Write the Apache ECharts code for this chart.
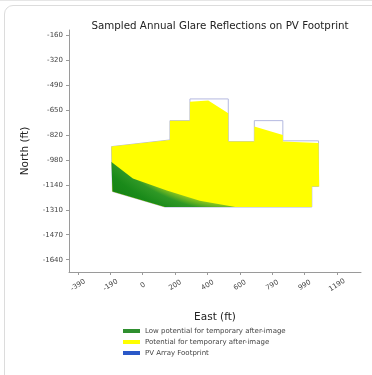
<!DOCTYPE html>
<html>
<head>
<meta charset="utf-8">
<script src="https://cdn.jsdelivr.net/npm/echarts@6/dist/echarts.min.js"></script>
<style>
html,body{margin:0;padding:0;background:#fff;width:372px;height:375px;overflow:hidden;}
#topline{position:absolute;left:0;top:0;width:372px;height:1px;background:#e6e6e6;}
#card{position:absolute;left:4px;top:5px;width:390px;height:390px;border:1px solid #dcdcdc;border-radius:9px;box-sizing:border-box;}
#chart{position:absolute;left:0;top:0;width:372px;height:375px;filter:blur(0.5px);}
</style>
</head>
<body>
<div id="topline"></div>
<div id="card"></div>
<div id="chart"></div>
<script>
// ---- data (feet) ----
const xTickValues = [-390, -192.5, 5, 202.5, 400, 597.5, 795, 992.5, 1190];
const xTickLabels = ['-390', '-190', '0', '200', '400', '600', '790', '990', '1190'];
const yTickValues = [-160, -324.4, -488.9, -653.3, -817.8, -982.2, -1146.7, -1311.1, -1475.6, -1640];
const yTickLabels = ['-160', '-320', '-490', '-650', '-820', '-980', '-1140', '-1310', '-1470', '-1640'];

// PV array footprint outline
const footprintEast  = [-186, 171, 171, 293, 293, 527, 527, 686, 686, 860, 860, 1078, 1078, 1037, 1037, 140, -180, -186];
const footprintNorth = [-895, -851, -724, -724, -581, -581, -862, -862, -724, -724, -857, -857, -1158, -1158, -1293, -1293, -1191, -895];

// "Potential for temporary after-image" region
const potentialEast  = [-186, 171, 171, 293, 293, 405, 527, 527, 686, 686, 860, 860, 1078, 1082, 1037, 1037, 140, -180];
const potentialNorth = [-895, -851, -724, -724, -599, -592, -675, -862, -862, -763, -818, -862, -872, -1158, -1158, -1293, -1293, -1191];

// "Low potential for temporary after-image" region
const lowEast  = [-186, -178, -55, 152, 354, 570, 140, -180];
const lowNorth = [-995, -1003, -1105, -1185, -1252, -1293, -1293, -1191];

const seriesNames = ['Low potential for temporary after-image', 'Potential for temporary after-image', 'PV Array Footprint'];
const legendColors = ['#2f8f2f', '#ffff00', '#2a58c8'];

function pairs(xs, ys) { return xs.map((x, i) => [x, ys[i]]); }
function nearestLabel(values, labels, v) {
  let best = 0, bd = Infinity;
  values.forEach((t, i) => { const d = Math.abs(t - v); if (d < bd) { bd = d; best = i; } });
  return labels[best];
}
function polySeries(name, pts, color, styleFn, z) {
  return {
    type: 'custom', name: name, z: z,
    coordinateSystem: 'cartesian2d',
    encode: { x: 0, y: 1 },
    data: pts,
    silent: true,
    itemStyle: { color: color },
    renderItem: function (params, api) {
      if (params.dataIndex !== 0) return null;
      const p = pts.map(q => api.coord(q));
      return { type: 'polygon', shape: { points: p }, style: styleFn(api) };
    }
  };
}

const chart = echarts.init(document.getElementById('chart'), null, { renderer: 'svg' });
const font = 'DejaVu Sans';
chart.setOption({
  animation: false,
  backgroundColor: 'transparent',
  title: {
    text: 'Sampled Annual Glare Reflections on PV Footprint',
    left: 215, top: 15, textAlign: 'center',
    textStyle: { fontFamily: font, fontSize: 10.3, fontWeight: 'normal', color: '#222' }
  },
  grid: { left: 69, right: 11, top: 30, bottom: 103, containLabel: false },
  xAxis: {
    type: 'value', min: -445, max: 1337,
    name: 'East (ft)', nameLocation: 'middle', nameGap: 38,
    nameTextStyle: { fontFamily: font, fontSize: 10.5, color: '#222' },
    axisLine: { show: true, onZero: false, lineStyle: { color: '#9a9a9a', width: 1 } },
    axisTick: { show: true, length: 3, customValues: xTickValues, lineStyle: { color: '#9a9a9a' } },
    axisLabel: {
      customValues: xTickValues, rotate: 32, margin: 13, align: 'center', verticalAlign: 'middle',
      fontFamily: font, fontSize: 7, color: '#444',
      formatter: v => nearestLabel(xTickValues, xTickLabels, v)
    },
    splitLine: { show: false }
  },
  yAxis: {
    type: 'value', min: -1721, max: -127,
    name: 'North (ft)', nameLocation: 'middle', nameGap: 40, nameRotate: 90,
    nameTextStyle: { fontFamily: font, fontSize: 10.5, color: '#222' },
    axisLine: { show: true, onZero: false, lineStyle: { color: '#9a9a9a', width: 1 } },
    axisTick: { show: true, length: 3, customValues: yTickValues, lineStyle: { color: '#9a9a9a' } },
    axisLabel: {
      customValues: yTickValues, margin: 6,
      fontFamily: font, fontSize: 7, color: '#444',
      formatter: v => nearestLabel(yTickValues, yTickLabels, v)
    },
    splitLine: { show: false }
  },
  legend: {
    orient: 'vertical', left: 123, top: 327, padding: 0, itemGap: 3,
    icon: 'rect', itemWidth: 17, itemHeight: 4,
    textStyle: { fontFamily: font, fontSize: 7, color: '#444', lineHeight: 8 },
    data: seriesNames.map((n, i) => ({ name: n, itemStyle: { color: legendColors[i] } }))
  },
  series: [
    polySeries(seriesNames[2], pairs(footprintEast, footprintNorth), legendColors[2], () => ({
      fill: 'none', stroke: '#b4b9e0', lineWidth: 1
    }), 1),
    polySeries(seriesNames[1], pairs(potentialEast, potentialNorth), legendColors[1], () => ({
      fill: '#ffff00', stroke: 'none'
    }), 2),
    polySeries(seriesNames[0], pairs(lowEast, lowNorth), legendColors[0], (api) => {
      const c = api.coord([599, -127]);
      return {
        fill: new echarts.graphic.RadialGradient(c[0], c[1], 220, [
          { offset: 0.76, color: '#ffff00' },
          { offset: 0.78, color: '#d8ee0c' },
          { offset: 0.80, color: '#80c020' },
          { offset: 0.83, color: '#2f9826' },
          { offset: 0.88, color: '#1a8a1a' },
          { offset: 1, color: '#0f7a0f' }
        ], true),
        stroke: 'none'
      };
    }, 3)
  ]
});
</script>
</body>
</html>
